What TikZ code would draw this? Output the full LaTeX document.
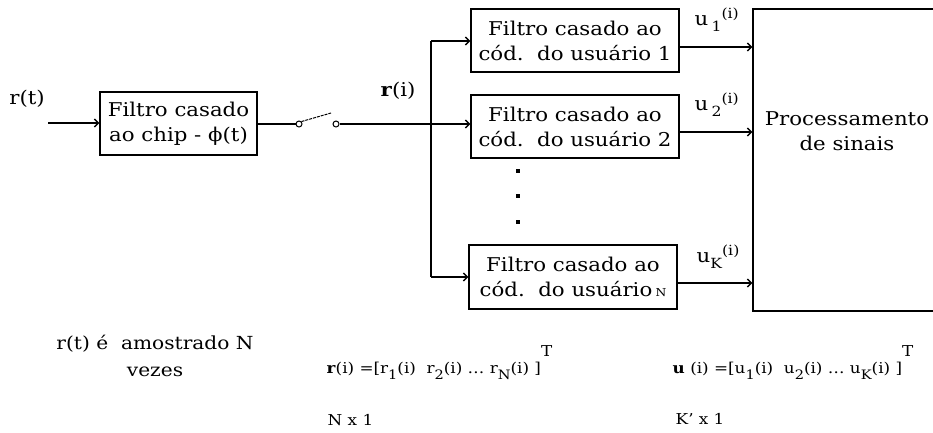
\documentclass[tikz,border=0pt]{standalone}
\usepackage{fontspec}
\setmainfont[FakeStretch=1.12]{DejaVu Serif}
\usetikzlibrary{arrows.meta,calc}
\newcommand\lo[1]{\raisebox{-6pt}{\fontsize{14}{14}\selectfont #1}}
\newcommand\hi[1]{\raisebox{7pt}{\fontsize{14}{14}\selectfont #1}}
\newcommand\blo[1]{\raisebox{-6pt}{\fontsize{13}{13}\selectfont #1}}
\begin{document}
\begin{tikzpicture}[x=1pt,y=-1pt,
  font=\fontsize{19}{25}\selectfont,
  line width=1.4pt,
  blk/.style={draw,line width=1.4pt,inner sep=0pt,align=center},
  arr/.style={-{Straight Barb[length=4pt,width=8pt,line width=1.3pt]}},
  sw/.style={circle,draw,line width=1pt,inner sep=0pt,minimum size=6pt},
  dotn/.style={rectangle,fill,inner sep=0pt,minimum size=3.2pt},
  txt/.style={inner sep=0pt},
  btxt/.style={inner sep=0pt,font=\fontsize{15}{21}\selectfont}]
\useasboundingbox (0,0) rectangle (933,432);
\clip (0,0) rectangle (933,432);
\fill[white] (0,0) rectangle (933,432);
% blocks
\node[blk,minimum width=157pt,minimum height=63pt] (chip) at (178.5,123.5) {Filtro casado\\ao chip - ϕ(t)};
\node[blk,minimum width=208pt,minimum height=63pt] (f1) at (575,40.5) {Filtro casado ao\\cód.\ \ do usuário 1};
\node[blk,minimum width=208pt,minimum height=63pt] (f2) at (575,126.5) {Filtro casado ao\\cód.\ \ do usuário 2};
\node[blk,minimum width=208pt,minimum height=64pt] (fN) at (573,277) {Filtro casado ao\\cód.\ \ do usuário\,{\fontsize{11}{11}\selectfont N}};
\node[blk,minimum width=192pt,minimum height=302pt] (proc) at (849,160) {};
\node[txt,align=center] (procl) at (847,131) {Processamento\\de sinais};
% dots
\node[dotn] (d1) at (518,171) {};
\node[dotn] (d2) at (518,196) {};
\node[dotn] (d3) at (518,222) {};
% input
\node[txt] (rt) at (27,99) {r(t)};
\coordinate (in) at (48,123);
\draw[arr] (in) -- (in -| chip.west);
% switch
\node[sw] (s1) at (299,124) {};
\node[sw] (s2) at (336,124) {};
\draw (chip.east |- s1) -- (s1.west);
\draw[line width=1pt,dash pattern=on 3pt off 1pt] (s1.north east) -- (331,113);
\coordinate (top) at (431,41);
\coordinate (bot) at (431,277);
\draw[arr] (s2.east) -- (s2 -| f2.west);
\draw (top) -- (bot);
\draw[arr] (top) -- (top -| f1.west);
\draw[arr] (bot) -- (bot -| fN.west);
\node[txt] (ri) at (398,91) {\textbf{r}(i)};
% outputs
\coordinate (o1) at (679,47);
\coordinate (o2) at (679,132);
\coordinate (oK) at (677,283);
\draw[arr] (o1) -- (o1 -| proc.west);
\draw[arr] (o2) -- (o2 -| proc.west);
\draw[arr] (oK) -- (oK -| proc.west);
\node[txt,anchor=base west] (u1) at (694,25) {u\,\lo{1}\hi{(i)}};
\node[txt,anchor=base west] (u2) at (694,110) {u\,\lo{2}\hi{(i)}};
\node[txt,anchor=base west] (uK) at (696,262) {u\lo{K}\hi{(i)}};
% bottom texts
\node[txt,align=center,font=\fontsize{18}{27}\selectfont,anchor=base] (samp) at (155,376) {r(t) é\ \ amostrado N\\vezes};
\node[btxt,anchor=base west] (rvec) at (326,373) {\textbf{r}(i) =[r\blo{1}(i)\ \ r\blo{2}(i) \dots\ r\blo{N}(i) ]\raisebox{17pt}{T}};
\node[btxt,anchor=base west] (rdim) at (327,425) {N x 1};
\node[btxt,anchor=base west] (uvec) at (672,373) {\textbf{u} (i) =[u\blo{1}(i)\ \ u\blo{2}(i) \dots\ u\blo{K}(i) ]\raisebox{17pt}{T}};
\node[btxt,anchor=base west] (udim) at (675,424) {K' x 1};
\end{tikzpicture}
\end{document}
